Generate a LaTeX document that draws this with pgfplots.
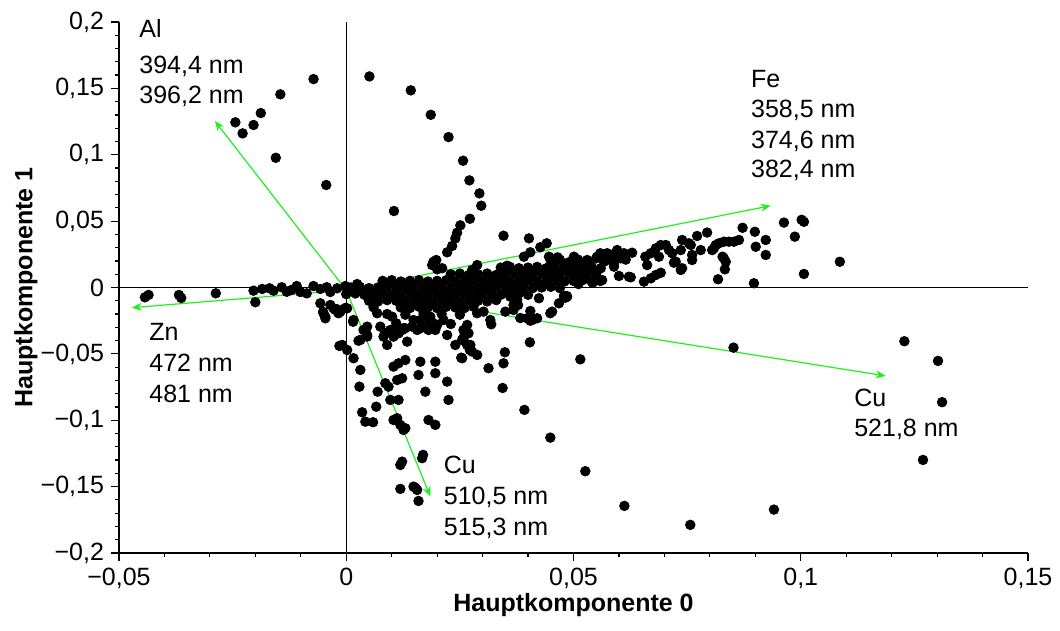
\documentclass[border=0pt]{standalone}
\usepackage{pgfplots}
\pgfplotsset{compat=1.18}
\usepackage{pgfplotstable}
\usepackage{fontspec}
\setmainfont{Liberation Sans}
\usetikzlibrary{arrows.meta}
\definecolor{arrowgreen}{RGB}{30,240,30}
\newcommand{\fs}{\fontsize{12.5}{15}\selectfont}

\pgfplotstableread{
x y
-0.0072 0.1570
-0.0145 0.1455
-0.0188 0.1314
-0.0244 0.1244
-0.0204 0.1224
-0.0228 0.1161
-0.0155 0.0977
-0.0044 0.0772
0.0051 0.1590
0.0142 0.1485
0.0186 0.1301
0.0225 0.1133
0.0257 0.0955
0.0271 0.0807
0.0293 0.0709
0.0297 0.0616
0.0272 0.0518
0.0251 0.0468
0.0244 0.0413
0.0240 0.0370
0.0233 0.0313
0.0222 0.0265
0.0198 0.0207
0.0189 0.0169
0.0200 0.0137
0.0211 0.0145
0.0105 0.0576
0.0192 0.0194
0.0346 0.0390
0.0402 0.0370
0.0427 0.0303
0.0441 0.0333
0.0405 0.0265
0.0354 0.0164
0.0277 0.0132
0.0391 0.0232
0.0446 0.0232
0.0464 0.0220
0.0288 0.0169
-0.0435 -0.0056
-0.0443 -0.0074
-0.0368 -0.0056
-0.0363 -0.0079
-0.0287 -0.0044
-0.0204 -0.0024
-0.0200 -0.0111
-0.0169 -0.0006
-0.0142 0.0002
-0.0109 0.0011
-0.0072 0.0011
-0.0087 -0.0044
-0.0160 -0.0024
-0.0131 -0.0032
-0.0043 0.0002
-0.0020 -0.0006
-0.0002 0.0011
0.0024 0.0026
-0.0121 -0.0019
-0.0185 -0.0011
-0.0101 -0.0034
-0.0057 -0.0011
-0.0035 -0.0034
-0.0057 -0.0119
-0.0046 -0.0220
-0.0024 -0.0169
-0.0017 -0.0194
0.0002 -0.0157
-0.0009 -0.0433
0.0002 -0.0471
-0.0051 -0.0184
-0.0035 -0.0132
-0.0050 -0.0194
-0.0046 -0.0232
-0.0028 -0.0157
-0.0013 -0.0182
-0.0020 -0.0164
-0.0002 -0.0154
-0.0015 -0.0440
0.0016 -0.0533
0.0031 -0.0621
0.0029 -0.0747
0.0035 -0.0940
0.0042 -0.1011
0.0059 -0.1015
0.0066 -0.0898
0.0069 -0.0785
0.0086 -0.0721
0.0104 -0.0596
0.0115 -0.0571
0.0130 -0.0546
0.0112 -0.0697
0.0115 -0.0847
0.0104 -0.0998
0.0119 -0.1035
0.0126 -0.1073
0.0119 -0.1337
0.0123 -0.1312
0.0169 -0.1261
0.0167 -0.1286
0.0119 -0.1517
0.0152 -0.1508
0.0159 -0.1608
0.0148 -0.1500
0.0156 -0.1525
0.0027 -0.0401
0.0046 -0.0358
0.0046 -0.0295
0.0068 -0.0194
0.0090 -0.0433
0.0097 -0.0320
0.0134 -0.0408
0.0159 -0.0659
0.0163 -0.0559
0.0196 -0.0559
0.0196 -0.0646
0.0174 -0.0785
0.0181 -0.0998
0.0196 -0.1035
0.0222 -0.0358
0.0225 -0.0847
0.0222 -0.0709
0.0240 -0.0433
0.0093 -0.0747
0.0097 -0.0847
0.0123 -0.0684
0.0112 -0.0985
0.0130 -0.1060
0.0075 -0.0295
0.0086 -0.0345
0.0104 -0.0340
0.0123 -0.0320
0.0255 -0.0395
0.0266 -0.0433
0.0269 -0.0345
0.0277 -0.0483
0.0288 -0.0508
0.0255 -0.0533
0.0313 -0.0608
0.0200 -0.0282
0.0181 -0.0320
0.0163 -0.0307
0.0145 -0.0295
0.0038 -0.0320
0.0015 -0.0258
0.0016 -0.0245
0.0060 -0.0149
0.0101 -0.0220
0.0108 -0.0333
0.0130 -0.0307
0.0148 -0.0245
0.0163 -0.0245
0.0185 -0.0220
0.0258 -0.0320
0.0266 -0.0282
0.0288 -0.0194
0.0031 -0.0395
0.0046 -0.0370
0.0082 -0.0370
0.0104 -0.0370
0.0115 -0.0345
0.0126 -0.0307
0.0156 -0.0320
0.0178 -0.0295
0.0181 -0.0232
0.0196 -0.0320
0.0258 -0.0395
0.0273 -0.0433
0.0214 -0.0245
0.0253 -0.0529
0.0257 -0.0383
0.0272 -0.0471
0.0852 -0.0453
0.0515 -0.0541
0.0404 -0.0413
0.0449 -0.1131
0.0392 -0.0922
0.0344 -0.0757
0.0346 -0.0571
0.0349 -0.0488
0.0526 -0.1384
0.0612 -0.1645
0.0757 -0.1788
0.0941 -0.1673
0.0319 -0.0277
0.0405 -0.0250
0.0383 -0.0230
0.0405 -0.0177
0.0350 -0.0182
0.0302 -0.0182
0.0449 -0.0194
0.0453 -0.0182
0.0468 -0.0119
0.0482 -0.0077
0.0424 -0.0081
0.0378 -0.0132
0.0365 -0.0069
0.0420 -0.0232
0.0486 -0.0069
0.0368 -0.0132
0.0376 -0.0094
0.0361 -0.0069
0.0398 -0.0232
0.0368 -0.0169
0.0409 -0.0245
0.0317 -0.0245
0.0479 -0.0064
0.0485 -0.0064
0.1228 -0.0405
0.1302 -0.0553
0.1311 -0.0864
0.1269 -0.1299
0.1086 0.0194
0.1007 0.0495
0.1002 0.0510
0.1007 0.0102
0.0963 0.0489
0.0987 0.0383
0.0897 0.0032
0.0923 0.0358
0.0923 0.0245
0.0901 0.0307
0.0899 0.0420
0.0872 0.0450
0.0864 0.0358
0.0853 0.0345
0.0842 0.0345
0.0831 0.0345
0.0820 0.0333
0.0813 0.0320
0.0805 0.0282
0.0828 0.0232
0.0835 0.0194
0.0833 0.0137
0.0818 0.0062
0.0794 0.0414
0.0780 0.0282
0.0772 0.0388
0.0761 0.0245
0.0761 0.0207
0.0758 0.0320
0.0739 0.0358
0.0739 0.0145
0.0736 0.0282
0.0725 0.0194
0.0717 0.0258
0.0710 0.0282
0.0703 0.0320
0.0692 0.0320
0.0681 0.0295
0.0670 0.0258
0.0662 0.0169
0.0658 0.0232
0.0692 0.0111
0.0681 0.0094
0.0670 0.0069
0.0655 0.0044
0.0629 0.0262
0.0611 0.0258
0.0604 0.0220
0.0596 0.0282
0.0589 0.0157
0.0581 0.0245
0.0567 0.0194
0.0559 0.0258
0.0563 0.0056
0.0600 0.0087
0.0626 0.0077
0.0574 0.0258
0.0552 0.0232
0.0530 0.0207
0.0508 0.0182
0.0501 0.0232
0.0482 0.0157
0.0465 0.0227
0.0622 0.0081
0.0589 0.0182
0.0559 0.0049
0.0542 0.0036
0.0511 0.0026
0.0688 0.0232
0.0721 0.0187
0.0736 0.0132
0.0754 0.0333
0.0809 0.0295
0.0831 0.0220
0.0585 0.0200
0.0615 0.0210
0.0600 0.0240
0.0575 0.0215
0.0090 -0.0200
0.0130 -0.0205
0.0170 -0.0195
0.0210 -0.0200
0.0250 -0.0205
0.0110 -0.0270
0.0190 -0.0265
0.0230 -0.0275
}\scatterA

\pgfplotstableread{
x y
0.045 0.020
0.047 0.021
0.049 0.019
0.051 0.021
0.053 0.020
0.055 0.022
0.034 0.0150
0.036 0.0155
0.038 0.0145
0.040 0.0150
0.042 0.0155
0.044 0.0145
0.046 0.0150
0.048 0.0155
0.050 0.0145
0.052 0.0150
0.054 0.0155
0.056 0.0145
0.023 0.0100
0.025 0.0105
0.027 0.0095
0.029 0.0100
0.031 0.0105
0.033 0.0095
0.035 0.0100
0.037 0.0105
0.039 0.0095
0.041 0.0100
0.043 0.0105
0.045 0.0095
0.047 0.0100
0.049 0.0105
0.051 0.0095
0.053 0.0100
0.055 0.0105
0.008 0.0050
0.010 0.0055
0.012 0.0045
0.014 0.0050
0.016 0.0055
0.018 0.0045
0.020 0.0050
0.022 0.0055
0.024 0.0045
0.026 0.0050
0.028 0.0055
0.030 0.0045
0.032 0.0050
0.034 0.0055
0.036 0.0045
0.038 0.0050
0.040 0.0055
0.042 0.0045
0.044 0.0050
0.046 0.0055
0.048 0.0045
0.050 0.0050
0.052 0.0055
0.054 0.0045
0.001 0.0000
0.003 0.0005
0.005 -0.0005
0.007 0.0000
0.009 0.0005
0.011 -0.0005
0.013 0.0000
0.015 0.0005
0.017 -0.0005
0.019 0.0000
0.021 0.0005
0.023 -0.0005
0.025 0.0000
0.027 0.0005
0.029 -0.0005
0.031 0.0000
0.033 0.0005
0.035 -0.0005
0.037 0.0000
0.039 0.0005
0.041 -0.0005
0.043 0.0000
0.045 0.0005
0.047 -0.0005
0.000 -0.0050
0.002 -0.0045
0.004 -0.0055
0.006 -0.0050
0.008 -0.0045
0.010 -0.0055
0.012 -0.0050
0.014 -0.0045
0.016 -0.0055
0.018 -0.0050
0.020 -0.0045
0.022 -0.0055
0.024 -0.0050
0.026 -0.0045
0.028 -0.0055
0.030 -0.0050
0.032 -0.0045
0.034 -0.0055
0.036 -0.0050
0.038 -0.0045
0.040 -0.0055
0.005 -0.0100
0.007 -0.0105
0.009 -0.0095
0.011 -0.0100
0.013 -0.0105
0.015 -0.0095
0.017 -0.0100
0.019 -0.0105
0.021 -0.0095
0.023 -0.0100
0.025 -0.0105
0.027 -0.0095
0.029 -0.0100
0.031 -0.0105
0.033 -0.0095
0.012 -0.0150
0.014 -0.0155
0.016 -0.0145
0.018 -0.0150
0.020 -0.0155
0.022 -0.0145
0.024 -0.0150
0.026 -0.0155
0.028 -0.0145
}\scatterB

\begin{document}
\begin{tikzpicture}
\begin{axis}[
  scale only axis,
  width=454.5pt, height=265.5pt,
  xmin=-0.05, xmax=0.15, ymin=-0.2, ymax=0.2,
  enlargelimits=false,
  clip=false,
  axis lines*=left,
  axis line style={black, line width=0.7pt},
  tick align=outside,
  major tick length=4pt,
  minor tick length=2pt,
  tick style={black, line width=0.6pt},
  minor x tick num=4,
  minor y tick num=4,
  xtick={-0.05,0,0.05,0.1,0.15},
  xticklabels={{−0,05},{0},{0,05},{0,1},{0,15}},
  ytick={-0.2,-0.15,-0.1,-0.05,0,0.05,0.1,0.15,0.2},
  yticklabels={{−0,2},{−0,15},{−0,1},{−0,05},{0},{0,05},{0,1},{0,15},{0,2}},
  tick label style={font=\fs},
  xlabel={Hauptkomponente 0},
  ylabel={Hauptkomponente 1},
  xlabel style={font=\fs\bfseries, at={(axis description cs:0.5,-0.098)}, anchor=center},
  ylabel style={font=\fs\bfseries, at={(axis description cs:-0.1023,0.5)}, anchor=center},
]
\addplot[black, line width=0.5pt] coordinates {(-0.05,0) (0.15,0)};
\addplot[black, line width=0.5pt] coordinates {(0,-0.2) (0,0.2)};
\addplot[only marks, mark=*, mark size=2.4pt, black] table {\scatterA};
\addplot[only marks, mark=*, mark size=2.4pt, black] table {\scatterB};
\addplot[arrowgreen, line width=0.6pt, -{Stealth[length=5pt,width=4pt]}] coordinates {(0,-0.002) (-0.0289,0.1254)};
\addplot[arrowgreen, line width=0.6pt, -{Stealth[length=5pt,width=4pt]}] coordinates {(0,-0.002) (0.0934,0.0616)};
\addplot[arrowgreen, line width=0.6pt, -{Stealth[length=5pt,width=4pt]}] coordinates {(0,-0.002) (-0.0472,-0.0152)};
\addplot[arrowgreen, line width=0.6pt, -{Stealth[length=5pt,width=4pt]}] coordinates {(0,-0.002) (0.1187,-0.0666)};
\addplot[arrowgreen, line width=0.6pt, -{Stealth[length=5pt,width=4pt]}] coordinates {(0,-0.002) (0.0185,-0.1575)};
\begin{scope}[every node/.style={anchor=base west, inner sep=0pt, font=\fs}]
\node at (axis cs:-0.0456,0.1882) {Al};
\node at (axis cs:-0.0456,0.1615) {394,4 nm};
\node at (axis cs:-0.0456,0.1389) {396,2 nm};
\node at (axis cs:0.0890,0.1510) {Fe};
\node at (axis cs:0.0890,0.1284) {358,5 nm};
\node at (axis cs:0.0890,0.1050) {374,6 nm};
\node at (axis cs:0.0890,0.0825) {382,4 nm};
\node at (axis cs:-0.0434,-0.0403) {Zn};
\node at (axis cs:-0.0434,-0.0636) {472 nm};
\node at (axis cs:-0.0434,-0.0870) {481 nm};
\node at (axis cs:0.1117,-0.0900) {Cu};
\node at (axis cs:0.1117,-0.1126) {521,8 nm};
\node at (axis cs:0.0214,-0.1404) {Cu};
\node at (axis cs:0.0214,-0.1637) {510,5 nm};
\node at (axis cs:0.0214,-0.1871) {515,3 nm};
\end{scope}
\end{axis}
\path (-59.5pt,-39pt) rectangle (470.5pt,276.5pt);
\end{tikzpicture}
\end{document}
